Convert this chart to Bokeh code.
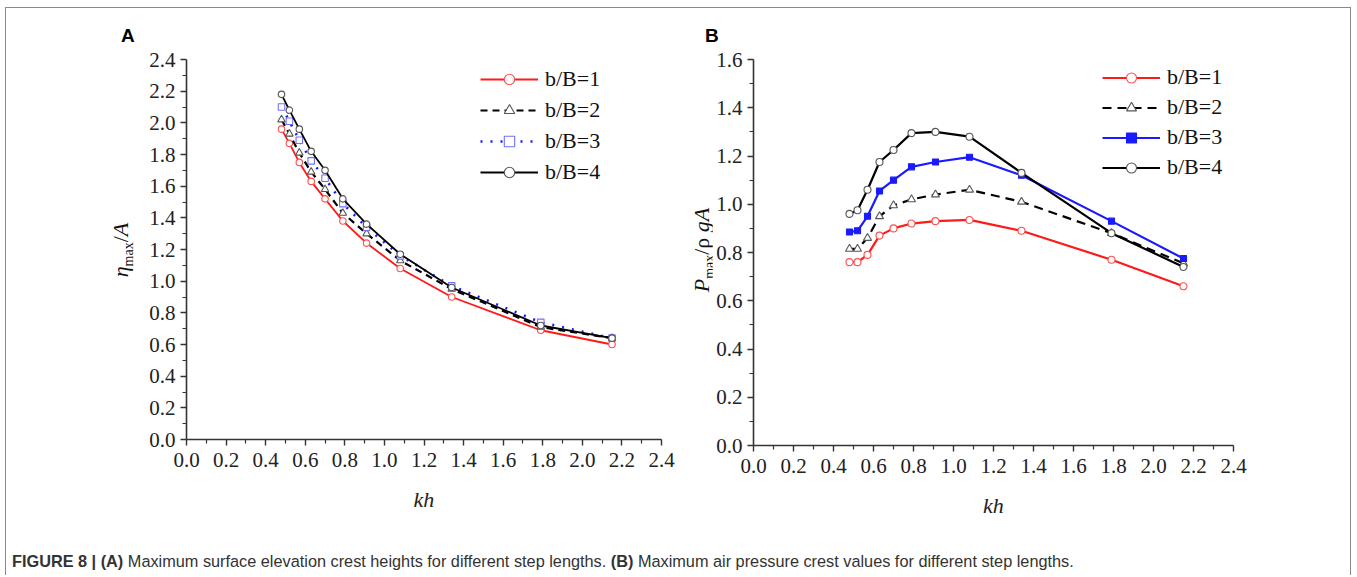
from bokeh.plotting import figure
from bokeh.layouts import column, row
from bokeh.models import (Range1d, FixedTicker, PrintfTickFormatter, Legend,
                          LegendItem, Div)
from bokeh.embed import file_html
from bokeh.resources import INLINE

# ---------------- data ----------------
kh = [0.48, 0.52, 0.57, 0.63, 0.70, 0.79, 0.91, 1.08, 1.34, 1.79, 2.15]
series_labels = ["b/B=1", "b/B=2", "b/B=3", "b/B=4"]

# (A) eta_max / A
eta_b1 = [1.96, 1.87, 1.75, 1.63, 1.52, 1.38, 1.24, 1.08, 0.90, 0.69, 0.60]
eta_b2 = [2.02, 1.93, 1.81, 1.69, 1.58, 1.43, 1.30, 1.13, 0.95, 0.71, 0.64]
eta_b3 = [2.10, 2.01, 1.89, 1.76, 1.65, 1.49, 1.34, 1.16, 0.97, 0.74, 0.64]
eta_b4 = [2.18, 2.08, 1.96, 1.82, 1.70, 1.52, 1.36, 1.17, 0.96, 0.72, 0.64]

# (B) P_max / rho g A
p_b1 = [0.76, 0.76, 0.79, 0.87, 0.90, 0.92, 0.93, 0.935, 0.89, 0.77, 0.66]
p_b2 = [0.815, 0.815, 0.86, 0.95, 0.995, 1.02, 1.04, 1.06, 1.01, 0.88, 0.755]
p_b3 = [0.885, 0.89, 0.95, 1.055, 1.10, 1.155, 1.175, 1.195, 1.12, 0.93, 0.775]
p_b4 = [0.96, 0.975, 1.06, 1.175, 1.225, 1.295, 1.30, 1.28, 1.13, 0.88, 0.74]

x_ticks = [0.0, 0.2, 0.4, 0.6, 0.8, 1.0, 1.2, 1.4, 1.6, 1.8, 2.0, 2.2, 2.4]
yA_ticks = [0.0, 0.2, 0.4, 0.6, 0.8, 1.0, 1.2, 1.4, 1.6, 1.8, 2.0, 2.2, 2.4]
yB_ticks = [0.0, 0.2, 0.4, 0.6, 0.8, 1.0, 1.2, 1.4, 1.6]

SERIF = "Liberation Serif"
SANS = "Liberation Sans"
AXIS_COL = "#333333"

# ---------------- layout geometry (page pixels) ----------------
OX, OY = 6, 8            # content origin inside the grey frame
TOP = 36                 # height of the row holding the panel letters
H2 = 507                 # height of the plot row
A_W = 680                # left half width
B_W = 1344 - A_W         # right half width
YA_W = 135               # width of the strip holding the left y title
YB_W = 26                # width of the strip holding the right y title


def make_fig(ymax, yticks, fw, fh, bl, bt, width):
    br = width - bl - fw
    bb = H2 - bt - fh
    p = figure(width=width, height=H2, frame_width=fw, frame_height=fh,
               min_border_left=bl, min_border_right=br,
               min_border_top=bt, min_border_bottom=bb,
               x_range=Range1d(0, 2.4), y_range=Range1d(0, ymax),
               output_backend="svg", toolbar_location=None)
    p.outline_line_color = None
    p.xgrid.visible = False
    p.ygrid.visible = False
    p.background_fill_color = "white"
    p.border_fill_color = "white"
    xminor = [round(t + 0.1, 2) for t in x_ticks[:-1]]
    yminor = [round(t + 0.1, 2) for t in yticks[:-1]]
    p.xaxis.ticker = FixedTicker(ticks=x_ticks, minor_ticks=xminor)
    p.yaxis.ticker = FixedTicker(ticks=yticks, minor_ticks=yminor)
    for ax in (p.xaxis[0], p.yaxis[0]):
        ax.formatter = PrintfTickFormatter(format="%.1f")
        ax.axis_line_color = AXIS_COL
        ax.axis_line_width = 1.6
        ax.major_tick_line_color = AXIS_COL
        ax.minor_tick_line_color = AXIS_COL
        ax.major_tick_line_width = 1.4
        ax.minor_tick_line_width = 1.2
        ax.major_tick_out = 6
        ax.major_tick_in = 0
        ax.minor_tick_out = 4
        ax.minor_tick_in = 0
        ax.major_label_text_font = SERIF
        ax.major_label_text_font_size = "21px"
        ax.major_label_text_color = "#222222"
    p.xaxis.major_label_standoff = 7
    p.yaxis.major_label_standoff = 5
    p.xaxis.axis_label = "kh"
    p.xaxis.axis_label_text_font = SERIF
    p.xaxis.axis_label_text_font_style = "italic"
    p.xaxis.axis_label_text_font_size = "22px"
    p.xaxis.axis_label_text_color = "#222222"
    p.xaxis.axis_label_standoff = 17
    return p


# frame of A: page x 186..661, y 59..439 ; frame of B: page x 753..1233, y 56..442
A_x0, A_y0, A_fw, A_fh = 186, 59, 475, 380
B_x0, B_y0, B_fw, B_fh = 753, 56, 480, 386
A_cx = OX + YA_W                  # page x where figure A's canvas starts
B_cx = OX + A_W + YB_W            # page x where figure B's canvas starts
row_top = OY + TOP                # page y where the plot row starts

pA = make_fig(2.4, yA_ticks, A_fw, A_fh, A_x0 - A_cx, A_y0 - row_top, A_W - YA_W)
pB = make_fig(1.6, yB_ticks, B_fw, B_fh, B_x0 - B_cx, B_y0 - row_top, B_W - YB_W)

RED = "#ff1a1a"
BLUE = "#1a1aff"
GRAY = "#555555"

styles_A = [
    dict(y=eta_b1, lc=RED, dash="solid", lw=1.8, m="circle", mc="#ff5050", mf="white", ms=6.5),
    dict(y=eta_b2, lc="black", dash="7 5", lw=2.2, m="triangle", mc=GRAY, mf="white", ms=7.5),
    dict(y=eta_b3, lc=BLUE, dash="2 8", lw=2.6, m="square", mc="#7070ff", mf="white", ms=6.5),
    dict(y=eta_b4, lc="black", dash="solid", lw=1.8, m="circle", mc=GRAY, mf="white", ms=6.5),
]
styles_B = [
    dict(y=p_b1, lc=RED, dash="solid", lw=2.2, m="circle", mc="#ff5050", mf="white", ms=7),
    dict(y=p_b2, lc="black", dash="9 6", lw=2.2, m="triangle", mc=GRAY, mf="white", ms=8),
    dict(y=p_b3, lc=BLUE, dash="solid", lw=2.2, m="square", mc=BLUE, mf=BLUE, ms=6),
    dict(y=p_b4, lc="black", dash="solid", lw=2.2, m="circle", mc=GRAY, mf="white", ms=7),
]


def draw(p, styles):
    items = []
    for lab, st in zip(series_labels, styles):
        ln = p.line(kh, st["y"], line_color=st["lc"], line_width=st["lw"],
                    line_dash=st["dash"])
        sc = p.scatter(kh, st["y"], marker=st["m"], size=st["ms"],
                       line_color=st["mc"], fill_color=st["mf"], line_width=1.1)
        items.append(LegendItem(label=lab, renderers=[ln, sc]))
    return items


def add_legend(p, items, loc, gh, sp):
    lg = Legend(items=items, location=loc, orientation="vertical",
                glyph_width=58, glyph_height=gh, label_height=gh,
                spacing=sp, padding=0, margin=0, label_standoff=7,
                label_text_font=SERIF, label_text_font_size="22px",
                label_text_color="#111111",
                border_line_color=None, background_fill_alpha=0)
    p.add_layout(lg)


itemsA = draw(pA, styles_A)
itemsB = draw(pB, styles_B)
add_legend(pA, itemsA, (480 - A_x0, (A_y0 + A_fh) - (171.7 + 13)), 26, 5)
add_legend(pB, itemsB, (1102 - B_x0, (B_y0 + B_fh) - (165.3 + 12)), 25, 4)


# ---------------- HTML text pieces ----------------
def letter_div(ch, width, left):
    return Div(text=f'<div style="margin-left:{left}px;padding-top:18px;'
                    f'font-family:{SANS};font-weight:bold;font-size:19px;'
                    f'line-height:20px;color:#000;">{ch}</div>',
               width=width, height=TOP, margin=0)


def ytitle_div(html, width, cx_rel, cy_rel):
    # inner box 300 px long, 24 px tall, rotated -90deg about its top-left corner
    tx = cx_rel - 12
    ty = cy_rel + 150
    return Div(text=f'<div style="width:300px;height:24px;line-height:24px;'
                    f'text-align:center;white-space:nowrap;transform-origin:0 0;'
                    f'transform:translate({tx}px,{ty}px) rotate(-90deg);'
                    f'font-family:{SERIF};font-size:22px;color:#111;">{html}</div>',
               width=width, height=H2, margin=0)


SUB = '<span style="font-style:normal;font-size:14px;vertical-align:-5px;">max</span>'
titleA = f'<i>\u03b7</i>{SUB}/<i>A</i>'
titleB = f'<i>P</i>{SUB}/\u03c1 <i>gA</i>'

divA = letter_div("A", A_W, 128 - OX - 7)
divB = letter_div("B", B_W, 712 - (OX + A_W) - 7)
divYA = ytitle_div(titleA, YA_W, 121 - OX, 250 - row_top)
divYB = ytitle_div(titleB, YB_W, 702 - (OX + A_W), 250 - row_top)

caption = Div(
    text='<b>FIGURE 8 | (A)</b> Maximum surface elevation crest heights for different '
         'step lengths. <b>(B)</b> Maximum air pressure crest values for different step lengths.',
    width=1344, height=24, margin=0,
    styles={"font-family": SANS, "font-size": "16.3px", "color": "#333333",
            "padding-left": "6px", "line-height": "20px", "white-space": "nowrap"})

layout = column(row(divA, divB, spacing=0),
                row(divYA, pA, divYB, pB, spacing=0),
                caption, spacing=0, margin=(7, 0, 0, 5),
                styles={"border-top": "1px solid #8a8a8a",
                        "border-left": "1px solid #8a8a8a",
                        "border-right": "1px solid #8a8a8a"})

open("out.html", "w").write(file_html(layout, INLINE))
